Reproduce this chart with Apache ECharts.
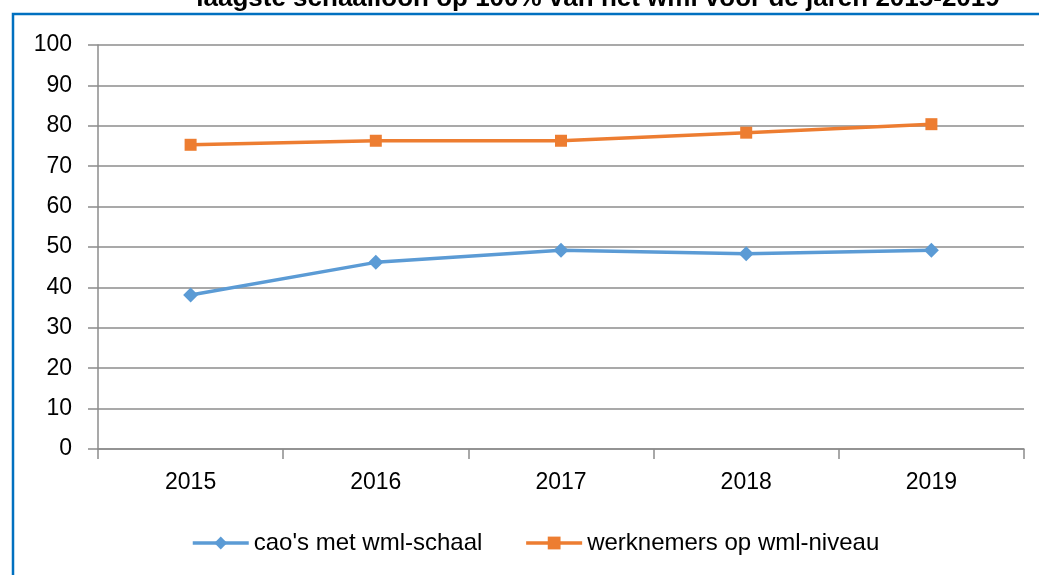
<!DOCTYPE html>
<html>
<head>
<meta charset="utf-8">
<script src="https://cdn.jsdelivr.net/npm/echarts@6/dist/echarts.min.js"></script>
<style>
html,body{margin:0;padding:0;background:#fff;}
#chart{width:1039px;height:575px;}
</style>
</head>
<body>
<div id="chart"></div>
<script>
var titleText = "laagste schaalloon op 100% van het wml voor de jaren 2015-2019";
var categories = ["2015", "2016", "2017", "2018", "2019"];
var seriesNames = ["cao's met wml-schaal", "werknemers op wml-niveau"];
var caoValues = [38.1, 46.2, 49.2, 48.3, 49.2];
var werknemersValues = [75.3, 76.3, 76.3, 78.3, 80.4];
var yMin = 0, yMax = 100, yInterval = 10;

var chart = echarts.init(document.getElementById('chart'), null, {renderer: 'canvas'});
var font = "'Liberation Sans', Arial, sans-serif";
var gridColor = '#8c8c8c';

chart.setOption({
  animation: false,
  backgroundColor: '#ffffff',
  graphic: [
    {
      type: 'rect',
      z: 0,
      shape: {x: 13, y: 14, width: 1100, height: 700},
      style: {fill: 'none', stroke: '#0070C0', lineWidth: 2.5}
    },
    {
      type: 'text',
      z: 10,
      style: {
        x: 598, y: 12,
        text: titleText,
        textAlign: 'center',
        textVerticalAlign: 'bottom',
        font: "bold 26px 'Liberation Sans', Arial, sans-serif",
        fill: '#000'
      }
    }
  ],
  grid: {left: 98, right: 15, top: 45, bottom: 126, containLabel: false},
  legend: {
    data: seriesNames,
    left: 186,
    top: 526,
    itemWidth: 56,
    itemHeight: 16,
    itemGap: 42,
    lineStyle: {width: 3.5},
    textStyle: {fontFamily: font, fontSize: 24, color: '#000'}
  },
  xAxis: {
    type: 'category',
    data: categories,
    boundaryGap: true,
    axisLine: {lineStyle: {color: gridColor, width: 1.5}},
    axisTick: {show: true, length: 10, lineStyle: {color: gridColor, width: 1.5}},
    axisLabel: {fontFamily: font, fontSize: 23, color: '#000', margin: 22}
  },
  yAxis: {
    type: 'value',
    min: yMin, max: yMax, interval: yInterval,
    axisLine: {show: true, lineStyle: {color: gridColor, width: 1.5}},
    axisTick: {show: true, length: 10, lineStyle: {color: gridColor, width: 1.5}},
    splitLine: {lineStyle: {color: gridColor, width: 1.5}},
    axisLabel: {fontFamily: font, fontSize: 23, color: '#000', margin: 26}
  },
  series: [
    {
      name: seriesNames[0],
      type: 'line',
      data: caoValues,
      symbol: 'diamond',
      symbolSize: 15,
      lineStyle: {color: '#5B9BD5', width: 3.5},
      itemStyle: {color: '#5B9BD5'}
    },
    {
      name: seriesNames[1],
      type: 'line',
      data: werknemersValues,
      symbol: 'rect',
      symbolSize: 12,
      lineStyle: {color: '#ED7D31', width: 3.5},
      itemStyle: {color: '#ED7D31'}
    }
  ]
});
</script>
</body>
</html>
